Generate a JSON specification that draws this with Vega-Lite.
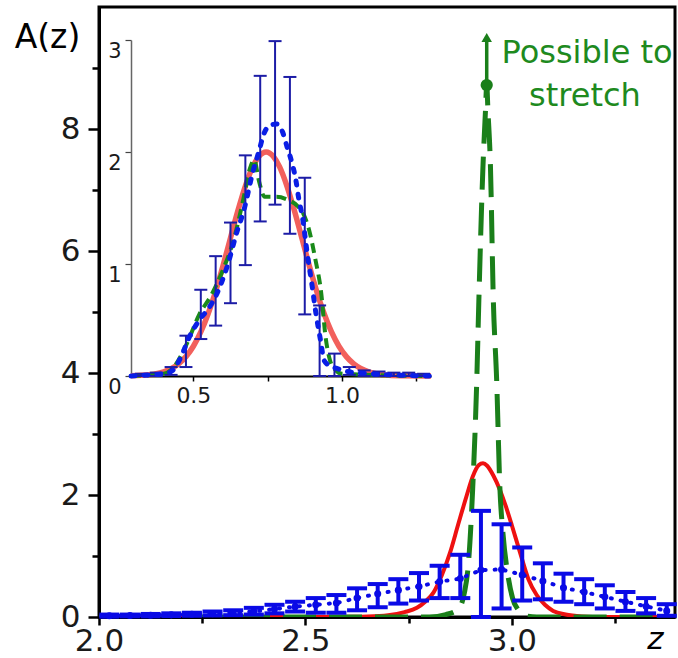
{
  "$schema": "https://vega.github.io/schema/vega-lite/v6.json",
  "width": 576,
  "height": 610,
  "autosize": "none",
  "padding": {"left": 99, "top": 7, "right": 3, "bottom": 41},
  "background": "white",
  "config": {
    "view": {"stroke": "black", "strokeWidth": 3},
    "font": "DejaVu Sans",
    "axis": {"labelFont": "DejaVu Sans", "titleFont": "DejaVu Sans", "grid": false}
  },
  "datasets": {
    "mainRed": [
      {"z": 2.0, "v": 0}, {"z": 2.5, "v": 0}, {"z": 2.6, "v": 0.005}, {"z": 2.65, "v": 0.01},
      {"z": 2.7, "v": 0.03}, {"z": 2.74, "v": 0.08}, {"z": 2.77, "v": 0.15}, {"z": 2.79, "v": 0.25},
      {"z": 2.81, "v": 0.4}, {"z": 2.83, "v": 0.68}, {"z": 2.85, "v": 1.05}, {"z": 2.87, "v": 1.52},
      {"z": 2.89, "v": 1.98}, {"z": 2.905, "v": 2.3}, {"z": 2.92, "v": 2.49}, {"z": 2.93, "v": 2.52},
      {"z": 2.94, "v": 2.48}, {"z": 2.955, "v": 2.32}, {"z": 2.97, "v": 2.1}, {"z": 2.985, "v": 1.82},
      {"z": 3.0, "v": 1.5}, {"z": 3.02, "v": 1.05}, {"z": 3.04, "v": 0.62}, {"z": 3.06, "v": 0.36},
      {"z": 3.08, "v": 0.2}, {"z": 3.1, "v": 0.1}, {"z": 3.13, "v": 0.04}, {"z": 3.17, "v": 0.01},
      {"z": 3.22, "v": 0}, {"z": 3.395, "v": 0}
    ],
    "mainGreen": [
      {"z": 2.0, "v": 0}, {"z": 2.8, "v": 0}, {"z": 2.84, "v": 0.04}, {"z": 2.87, "v": 0.13},
      {"z": 2.885, "v": 0.4}, {"z": 2.895, "v": 0.9}, {"z": 2.905, "v": 2.1}, {"z": 2.915, "v": 3.9},
      {"z": 2.92, "v": 5.2}, {"z": 2.93, "v": 7.4}, {"z": 2.936, "v": 8.3}, {"z": 2.939, "v": 8.72},
      {"z": 2.942, "v": 8.3}, {"z": 2.948, "v": 7.4}, {"z": 2.955, "v": 5.2}, {"z": 2.963, "v": 3.9},
      {"z": 2.971, "v": 2.1}, {"z": 2.978, "v": 1.4}, {"z": 2.99, "v": 0.7}, {"z": 3.002, "v": 0.3},
      {"z": 3.015, "v": 0.12}, {"z": 3.031, "v": 0.02}, {"z": 3.06, "v": 0}, {"z": 3.395, "v": 0}
    ],
    "mainBars": [
      {"z": 2.025, "lo": 0.005, "c": 0.02, "hi": 0.04},
      {"z": 2.075, "lo": 0.01, "c": 0.025, "hi": 0.04},
      {"z": 2.125, "lo": 0.01, "c": 0.03, "hi": 0.05},
      {"z": 2.175, "lo": 0.015, "c": 0.035, "hi": 0.06},
      {"z": 2.225, "lo": 0.02, "c": 0.045, "hi": 0.07},
      {"z": 2.275, "lo": 0.025, "c": 0.055, "hi": 0.09},
      {"z": 2.325, "lo": 0.03, "c": 0.07, "hi": 0.11},
      {"z": 2.375, "lo": 0.04, "c": 0.09, "hi": 0.15},
      {"z": 2.425, "lo": 0.06, "c": 0.13, "hi": 0.2},
      {"z": 2.475, "lo": 0.09, "c": 0.17, "hi": 0.25},
      {"z": 2.525, "lo": 0.07, "c": 0.2, "hi": 0.31},
      {"z": 2.575, "lo": 0.07, "c": 0.23, "hi": 0.36},
      {"z": 2.625, "lo": 0.11, "c": 0.31, "hi": 0.47},
      {"z": 2.675, "lo": 0.16, "c": 0.38, "hi": 0.54},
      {"z": 2.725, "lo": 0.22, "c": 0.44, "hi": 0.62},
      {"z": 2.775, "lo": 0.27, "c": 0.5, "hi": 0.72},
      {"z": 2.825, "lo": 0.31, "c": 0.58, "hi": 0.84},
      {"z": 2.875, "lo": 0.31, "c": 0.63, "hi": 1.02},
      {"z": 2.925, "lo": 0.0, "c": 0.77, "hi": 1.74},
      {"z": 2.975, "lo": 0.14, "c": 0.78, "hi": 1.52},
      {"z": 3.025, "lo": 0.27, "c": 0.69, "hi": 1.14},
      {"z": 3.075, "lo": 0.29, "c": 0.59, "hi": 0.88},
      {"z": 3.125, "lo": 0.25, "c": 0.48, "hi": 0.71},
      {"z": 3.175, "lo": 0.21, "c": 0.41, "hi": 0.62},
      {"z": 3.225, "lo": 0.14, "c": 0.33, "hi": 0.52},
      {"z": 3.275, "lo": 0.1, "c": 0.25, "hi": 0.41},
      {"z": 3.325, "lo": 0.06, "c": 0.175, "hi": 0.31},
      {"z": 3.375, "lo": 0.02, "c": 0.1, "hi": 0.21}
    ],
    "annot": [
      {"z": 3.182, "v": 9.08, "label": "Possible to"},
      {"z": 3.177, "v": 8.37, "label": "stretch"}
    ],
    "arrow": [
      {"z": 2.939, "v": 8.72, "v2": 9.45, "tip": 9.5}
    ],
    "insetRed": [
      {"z": 0.29, "v": 0.002}, {"z": 0.35, "v": 0.011}, {"z": 0.4, "v": 0.037}, {"z": 0.45, "v": 0.108},
      {"z": 0.475, "v": 0.173}, {"z": 0.5, "v": 0.266}, {"z": 0.525, "v": 0.393}, {"z": 0.55, "v": 0.558},
      {"z": 0.575, "v": 0.757}, {"z": 0.6, "v": 0.987}, {"z": 0.625, "v": 1.233}, {"z": 0.65, "v": 1.477},
      {"z": 0.675, "v": 1.696}, {"z": 0.7, "v": 1.869}, {"z": 0.72, "v": 1.958}, {"z": 0.745, "v": 2.0},
      {"z": 0.77, "v": 1.958}, {"z": 0.79, "v": 1.869}, {"z": 0.815, "v": 1.696}, {"z": 0.84, "v": 1.477},
      {"z": 0.865, "v": 1.233}, {"z": 0.89, "v": 0.987}, {"z": 0.915, "v": 0.757}, {"z": 0.94, "v": 0.558},
      {"z": 0.965, "v": 0.393}, {"z": 0.99, "v": 0.266}, {"z": 1.015, "v": 0.173}, {"z": 1.04, "v": 0.108},
      {"z": 1.09, "v": 0.037}, {"z": 1.14, "v": 0.011}, {"z": 1.2, "v": 0.002}, {"z": 1.3, "v": 0}
    ],
    "insetGreen": [
      {"z": 0.29, "v": 0}, {"z": 0.4, "v": 0.02}, {"z": 0.44, "v": 0.1}, {"z": 0.48, "v": 0.3},
      {"z": 0.52, "v": 0.55}, {"z": 0.56, "v": 0.72}, {"z": 0.6, "v": 0.95}, {"z": 0.635, "v": 1.21},
      {"z": 0.67, "v": 1.6}, {"z": 0.69, "v": 1.85}, {"z": 0.705, "v": 1.93}, {"z": 0.72, "v": 1.75},
      {"z": 0.74, "v": 1.6}, {"z": 0.78, "v": 1.6}, {"z": 0.82, "v": 1.57}, {"z": 0.85, "v": 1.52},
      {"z": 0.87, "v": 1.45}, {"z": 0.89, "v": 1.3}, {"z": 0.91, "v": 1.05}, {"z": 0.93, "v": 0.75},
      {"z": 0.945, "v": 0.35}, {"z": 0.96, "v": 0.14}, {"z": 0.98, "v": 0.05}, {"z": 1.0, "v": 0.02},
      {"z": 1.3, "v": 0}
    ],
    "insetBlue": [
      {"z": 0.29, "v": 0}, {"z": 0.35, "v": 0.01}, {"z": 0.4, "v": 0.02}, {"z": 0.43, "v": 0.05},
      {"z": 0.46, "v": 0.18}, {"z": 0.485, "v": 0.34}, {"z": 0.52, "v": 0.5}, {"z": 0.55, "v": 0.6},
      {"z": 0.58, "v": 0.74}, {"z": 0.614, "v": 0.98}, {"z": 0.647, "v": 1.29}, {"z": 0.67, "v": 1.48},
      {"z": 0.7, "v": 1.82}, {"z": 0.72, "v": 2.0}, {"z": 0.737, "v": 2.16}, {"z": 0.76, "v": 2.24},
      {"z": 0.78, "v": 2.25}, {"z": 0.8, "v": 2.18}, {"z": 0.815, "v": 2.05}, {"z": 0.83, "v": 1.92},
      {"z": 0.845, "v": 1.75}, {"z": 0.855, "v": 1.58}, {"z": 0.867, "v": 1.42}, {"z": 0.884, "v": 1.08},
      {"z": 0.9, "v": 0.8}, {"z": 0.912, "v": 0.57}, {"z": 0.928, "v": 0.32}, {"z": 0.94, "v": 0.14},
      {"z": 0.96, "v": 0.09}, {"z": 0.98, "v": 0.07}, {"z": 1.02, "v": 0.04}, {"z": 1.1, "v": 0.02},
      {"z": 1.3, "v": 0}
    ],
    "insetBars": [
      {"z": 0.325, "lo": 0, "hi": 0.02}, {"z": 0.375, "lo": 0, "hi": 0.03},
      {"z": 0.425, "lo": 0.01, "hi": 0.08}, {"z": 0.475, "lo": 0.08, "hi": 0.36},
      {"z": 0.525, "lo": 0.33, "hi": 0.77}, {"z": 0.575, "lo": 0.45, "hi": 1.07},
      {"z": 0.625, "lo": 0.65, "hi": 1.37}, {"z": 0.675, "lo": 0.99, "hi": 1.97},
      {"z": 0.725, "lo": 1.38, "hi": 2.68}, {"z": 0.775, "lo": 1.53, "hi": 2.99},
      {"z": 0.825, "lo": 1.27, "hi": 2.67}, {"z": 0.875, "lo": 0.55, "hi": 1.77},
      {"z": 0.925, "lo": 0.0, "hi": 0.63}, {"z": 0.975, "lo": 0.0, "hi": 0.2},
      {"z": 1.025, "lo": 0.01, "hi": 0.08}, {"z": 1.075, "lo": 0, "hi": 0.05},
      {"z": 1.125, "lo": 0, "hi": 0.04}, {"z": 1.175, "lo": 0, "hi": 0.03},
      {"z": 1.225, "lo": 0, "hi": 0.03}, {"z": 1.275, "lo": 0, "hi": 0.02}
    ]
  },
  "layer": [
    {
      "layer": [
        {
          "data": {"name": "mainRed"},
          "mark": {"type": "line", "color": "#ee1111", "strokeWidth": 4, "interpolate": "monotone", "clip": true},
          "encoding": {
            "x": {"field": "z", "type": "quantitative",
              "scale": {"domain": [2, 3.395], "nice": false, "zero": false},
              "axis": {
                "values": [2, 2.25, 2.5, 2.75, 3, 3.25], "format": ".1f",
                "labelExpr": "abs((datum.value * 4) % 2) < 0.01 ? datum.label : ''",
                "tickSize": {"condition": {"test": "abs((datum.value * 4) % 2) < 0.01", "value": 8}, "value": 6},
                "tickWidth": 2.5, "tickColor": "black",
                "domainColor": "black", "domainWidth": 3,
                "labelFontSize": 31, "labelColor": "#1a1a1a", "labelPadding": 1, "labelDx": 6,
                "labelFlush": false, "labelOverlap": false, "labelBound": false,
                "title": "z", "titleFontStyle": "italic", "titleFontWeight": "normal", "titleFontSize": 31,
                "titleColor": "black", "titleX": 556, "titleY": 31, "titleBaseline": "alphabetic", "titleAlign": "center"
              }
            },
            "y": {"field": "v", "type": "quantitative",
              "scale": {"domain": [0, 10], "nice": false},
              "axis": {
                "values": [0, 1, 2, 3, 4, 5, 6, 7, 8, 9], "format": "d",
                "labelExpr": "datum.value % 2 === 0 ? datum.label : ''",
                "tickSize": {"condition": {"test": "datum.value % 2 === 0", "value": 11}, "value": 7},
                "tickWidth": 2.5, "tickColor": "black",
                "domainColor": "black", "domainWidth": 3,
                "labelFontSize": 31, "labelColor": "#1a1a1a", "labelPadding": 8,
                "labelFlush": false, "labelOverlap": false, "labelBound": false,
                "title": "A(z)", "titleAngle": 0, "titleFontWeight": "normal", "titleFontSize": 33,
                "titleColor": "black", "titleX": -52, "titleY": 40, "titleBaseline": "alphabetic", "titleAlign": "center"
              }
            }
          }
        },
        {
          "data": {"name": "mainGreen"},
          "mark": {"type": "line", "color": "#1a7f1a", "strokeWidth": 5, "strokeDash": [33, 13], "interpolate": "monotone", "clip": true},
          "encoding": {
            "x": {"field": "z", "type": "quantitative"},
            "y": {"field": "v", "type": "quantitative"}
          }
        },
        {
          "data": {"name": "mainBars"},
          "mark": {"type": "line", "color": "#0a0ae6", "strokeWidth": 4, "strokeDash": [1, 9], "strokeCap": "round"},
          "encoding": {
            "x": {"field": "z", "type": "quantitative"},
            "y": {"field": "c", "type": "quantitative"}
          }
        },
        {
          "data": {"name": "mainBars"},
          "mark": {"type": "rule", "color": "#0a0ae6", "strokeWidth": 4},
          "encoding": {
            "x": {"field": "z", "type": "quantitative"},
            "y": {"field": "lo", "type": "quantitative"},
            "y2": {"field": "hi"}
          }
        },
        {
          "data": {"name": "mainBars"},
          "mark": {"type": "tick", "orient": "horizontal", "color": "#0a0ae6", "size": 20, "thickness": 4, "opacity": 1},
          "encoding": {
            "x": {"field": "z", "type": "quantitative"},
            "y": {"field": "hi", "type": "quantitative"}
          }
        },
        {
          "data": {"name": "mainBars"},
          "mark": {"type": "tick", "orient": "horizontal", "color": "#0a0ae6", "size": 20, "thickness": 4, "opacity": 1},
          "encoding": {
            "x": {"field": "z", "type": "quantitative"},
            "y": {"field": "lo", "type": "quantitative"}
          }
        },
        {
          "data": {"name": "mainBars"},
          "mark": {"type": "point", "shape": "circle", "filled": true, "color": "#0a0ae6", "size": 50, "opacity": 1},
          "encoding": {
            "x": {"field": "z", "type": "quantitative"},
            "y": {"field": "c", "type": "quantitative"}
          }
        },
        {
          "data": {"name": "arrow"},
          "mark": {"type": "rule", "color": "#1a7f1a", "strokeWidth": 3.5},
          "encoding": {
            "x": {"field": "z", "type": "quantitative"},
            "y": {"field": "v", "type": "quantitative"},
            "y2": {"field": "v2"}
          }
        },
        {
          "data": {"name": "arrow"},
          "mark": {"type": "point", "shape": "circle", "filled": true, "color": "#1a7f1a", "size": 150, "opacity": 1},
          "encoding": {
            "x": {"field": "z", "type": "quantitative"},
            "y": {"field": "v", "type": "quantitative"}
          }
        },
        {
          "data": {"name": "arrow"},
          "mark": {"type": "point", "shape": "triangle-up", "filled": true, "color": "#1a7f1a", "size": 110, "opacity": 1},
          "encoding": {
            "x": {"field": "z", "type": "quantitative"},
            "y": {"field": "tip", "type": "quantitative"}
          }
        },
        {
          "data": {"name": "annot"},
          "mark": {"type": "text", "color": "#1e8a1e", "fontSize": 32, "font": "DejaVu Sans", "align": "center", "baseline": "alphabetic"},
          "encoding": {
            "x": {"field": "z", "type": "quantitative"},
            "y": {"field": "v", "type": "quantitative"},
            "text": {"field": "label"}
          }
        }
      ]
    },
    {
      "layer": [
        {
          "mark": {"type": "rect", "fill": "white", "stroke": "#666666", "strokeWidth": 1.5},
          "encoding": {
            "x": {"datum": 0.29, "type": "quantitative",
              "scale": {"domain": [0.29, 1.3], "range": [32, 332], "nice": false, "zero": false},
              "axis": {
                "orient": "bottom", "offset": -241,
                "values": [0.5, 0.75, 1.0, 1.25], "format": ".1f",
                "labelExpr": "abs((datum.value * 4) % 2) < 0.01 ? datum.label : ''",
                "tickSize": 5, "tickWidth": 1.5, "tickColor": "black",
                "domainColor": "black", "domainWidth": 2,
                "labelFontSize": 22, "labelColor": "#1a1a1a", "labelPadding": 4,
                "labelFlush": false, "labelOverlap": false, "labelBound": false,
                "title": null
              }
            },
            "x2": {"datum": 1.3},
            "y": {"datum": 0, "type": "quantitative",
              "scale": {"domain": [0, 3], "range": [369, 33], "nice": false},
              "axis": {
                "orient": "left", "offset": -32,
                "values": [0, 0.5, 1, 1.5, 2, 2.5, 3], "format": "d",
                "labelExpr": "datum.value % 1 === 0 ? datum.label : ''",
                "tickSize": {"condition": {"test": "datum.value % 1 === 0", "value": 6}, "value": 3},
                "tickWidth": 1.2, "tickColor": "#444444",
                "domainColor": "#666666", "domainWidth": 1.5,
                "labelFontSize": 21, "labelColor": "#1a1a1a", "labelPadding": 4, "labelBaseline": "top",
                "labelFlush": false, "labelOverlap": false, "labelBound": false,
                "title": null
              }
            },
            "y2": {"datum": 3}
          }
        },
        {
          "data": {"name": "insetRed"},
          "mark": {"type": "line", "color": "#f2605c", "strokeWidth": 5.5, "interpolate": "monotone"},
          "encoding": {
            "x": {"field": "z", "type": "quantitative"},
            "y": {"field": "v", "type": "quantitative"}
          }
        },
        {
          "data": {"name": "insetGreen"},
          "mark": {"type": "line", "color": "#1a8a1a", "strokeWidth": 4, "strokeDash": [10, 6], "interpolate": "monotone"},
          "encoding": {
            "x": {"field": "z", "type": "quantitative"},
            "y": {"field": "v", "type": "quantitative"}
          }
        },
        {
          "data": {"name": "insetBars"},
          "mark": {"type": "rule", "color": "#1c1ca6", "strokeWidth": 2},
          "encoding": {
            "x": {"field": "z", "type": "quantitative"},
            "y": {"field": "lo", "type": "quantitative"},
            "y2": {"field": "hi"}
          }
        },
        {
          "data": {"name": "insetBars"},
          "mark": {"type": "tick", "orient": "horizontal", "color": "#1c1ca6", "size": 13, "thickness": 2, "opacity": 1},
          "encoding": {
            "x": {"field": "z", "type": "quantitative"},
            "y": {"field": "hi", "type": "quantitative"}
          }
        },
        {
          "data": {"name": "insetBars"},
          "mark": {"type": "tick", "orient": "horizontal", "color": "#1c1ca6", "size": 13, "thickness": 2, "opacity": 1},
          "encoding": {
            "x": {"field": "z", "type": "quantitative"},
            "y": {"field": "lo", "type": "quantitative"}
          }
        },
        {
          "data": {"name": "insetBlue"},
          "mark": {"type": "line", "color": "#0a1ee6", "strokeWidth": 5, "strokeDash": [4, 9], "strokeCap": "round", "interpolate": "monotone"},
          "encoding": {
            "x": {"field": "z", "type": "quantitative"},
            "y": {"field": "v", "type": "quantitative"}
          }
        }
      ]
    }
  ],
  "resolve": {"scale": {"x": "independent", "y": "independent"}}
}
